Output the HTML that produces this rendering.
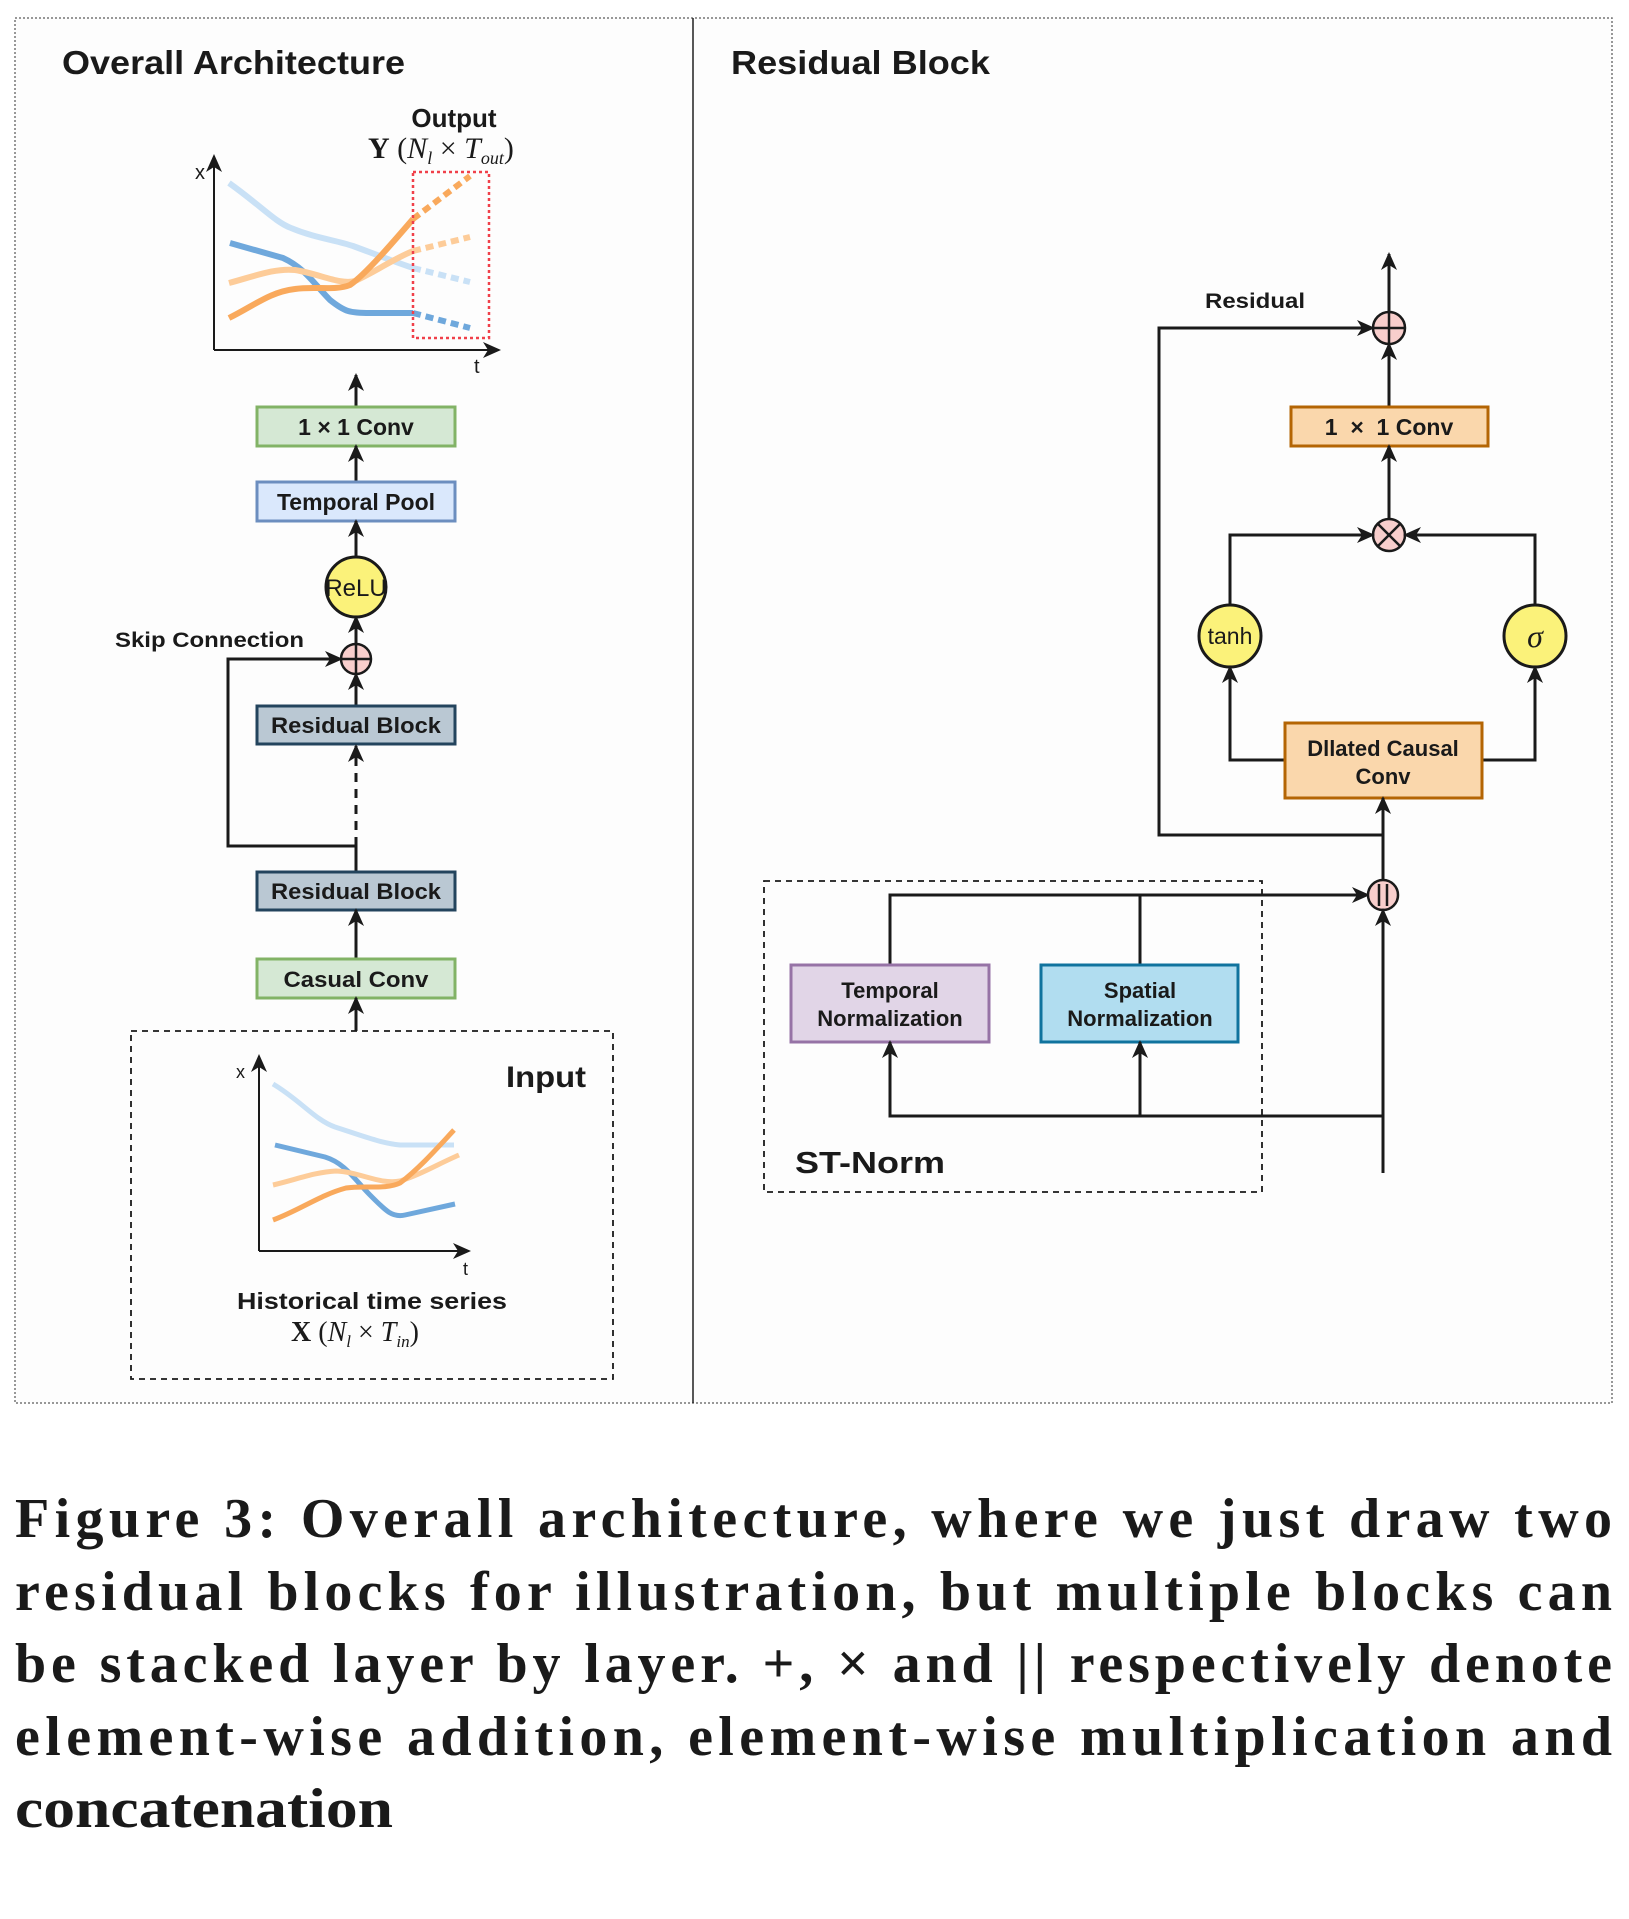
<!DOCTYPE html>
<html><head><meta charset="utf-8"><style>html,body{margin:0;padding:0;background:#fff}svg{display:block}</style></head>
<body>
<svg xmlns="http://www.w3.org/2000/svg" width="1629" height="1919" viewBox="0 0 1629 1919" font-family="Liberation Sans, Arial, sans-serif">
<defs>
<marker id="a" markerUnits="userSpaceOnUse" markerWidth="18" markerHeight="18" refX="16" refY="9" orient="auto">
<path d="M0,1 L18,9 L0,17 L5,9 Z" fill="#1a1a1a"/>
</marker>
</defs>
<rect x="0" y="0" width="1629" height="1919" fill="#fff"/>
<!-- outer border -->
<rect x="15" y="18" width="1597" height="1385" fill="#fdfdfd" stroke="#777" stroke-width="1.5" stroke-dasharray="2,2"/>
<line x1="693" y1="18" x2="693" y2="1403" stroke="#222" stroke-width="1.5"/>

<text x="62" y="74" font-size="33" font-weight="bold" fill="#1a1a1a" textLength="343" lengthAdjust="spacingAndGlyphs">Overall Architecture</text>
<text x="731" y="74" font-size="33" font-weight="bold" fill="#1a1a1a" textLength="259" lengthAdjust="spacingAndGlyphs">Residual Block</text>

<!-- output chart -->
<text x="454" y="127" font-size="26" font-weight="bold" text-anchor="middle" fill="#1a1a1a">Output</text>
<text x="368" y="158" font-family="Liberation Serif, serif" font-size="30" fill="#1a1a1a"><tspan font-weight="bold">Y</tspan> (<tspan font-style="italic">N</tspan><tspan font-style="italic" font-size="18" dy="6">l</tspan><tspan dy="-6"> × </tspan><tspan font-style="italic">T</tspan><tspan font-style="italic" font-size="18" dy="6">out</tspan><tspan dy="-6">)</tspan></text>
<line x1="214" y1="350" x2="214" y2="156" stroke="#1a1a1a" stroke-width="2" marker-end="url(#a)"/>
<line x1="214" y1="350" x2="499" y2="350" stroke="#1a1a1a" stroke-width="2" marker-end="url(#a)"/>
<text x="195" y="179" font-size="20" fill="#1a1a1a">x</text>
<text x="474" y="373" font-size="20" fill="#1a1a1a">t</text>
<g fill="none" stroke-width="6" stroke-linecap="butt">
<path d="M229,183 C260,205 275,222 291,228 C315,238 335,240 353,246 C380,256 395,262 413,268" stroke="#c9e1f6"/>
<path d="M413,268 L470,282" stroke="#c9e1f6" stroke-dasharray="8,5"/>
<path d="M230,243 L283,258 C305,268 315,285 330,300 C345,312 350,313 370,313 L413,313" stroke="#6fa8dc"/>
<path d="M413,313 L470,328" stroke="#6fa8dc" stroke-dasharray="8,5"/>
<path d="M229,283 C255,276 275,268 295,270 C320,274 340,285 355,281 C375,272 395,258 413,251" stroke="#fdcc99"/>
<path d="M413,251 L470,237" stroke="#fdcc99" stroke-dasharray="8,5"/>
<path d="M229,318 C255,305 270,292 295,289 C315,286 335,291 350,285 C365,275 395,240 413,219" stroke="#f9a95c"/>
<path d="M413,219 L470,176" stroke="#f9a95c" stroke-dasharray="8,5"/>
</g>
<rect x="413" y="172" width="76" height="166" fill="none" stroke="#f0404a" stroke-width="2.5" stroke-dasharray="3,3"/>

<!-- left stack -->
<line x1="356" y1="407" x2="356" y2="375" stroke="#1a1a1a" stroke-width="3" marker-end="url(#a)"/>
<rect x="257" y="407" width="198" height="39" fill="#d5e8d4" stroke="#82b366" stroke-width="3"/>
<text x="356" y="435" font-size="23" font-weight="bold" text-anchor="middle" fill="#1a1a1a">1 × 1 Conv</text>
<line x1="356" y1="482" x2="356" y2="446" stroke="#1a1a1a" stroke-width="3" marker-end="url(#a)"/>
<rect x="257" y="482" width="198" height="39" fill="#dae8fc" stroke="#6c8ebf" stroke-width="3"/>
<text x="356" y="510" font-size="23" font-weight="bold" text-anchor="middle" fill="#1a1a1a">Temporal Pool</text>
<line x1="356" y1="557" x2="356" y2="521" stroke="#1a1a1a" stroke-width="3" marker-end="url(#a)"/>
<ellipse cx="356" cy="587" rx="30" ry="30" fill="#fbf27a" stroke="#1a1a1a" stroke-width="3"/>
<text x="356" y="596" font-size="24" text-anchor="middle" fill="#1a1a1a">ReLU</text>
<line x1="356" y1="645" x2="356" y2="617" stroke="#1a1a1a" stroke-width="3" marker-end="url(#a)"/>
<text x="115" y="647" font-size="21" font-weight="bold" fill="#1a1a1a" textLength="189" lengthAdjust="spacingAndGlyphs">Skip Connection</text>
<circle cx="356" cy="659" r="15" fill="#f8cecc" stroke="#1a1a1a" stroke-width="2.5"/>
<line x1="341" y1="659" x2="371" y2="659" stroke="#1a1a1a" stroke-width="2.5"/>
<line x1="356" y1="644" x2="356" y2="674" stroke="#1a1a1a" stroke-width="2.5"/>
<line x1="356" y1="706" x2="356" y2="674" stroke="#1a1a1a" stroke-width="3" marker-end="url(#a)"/>
<rect x="257" y="706" width="198" height="38" fill="#bac8d3" stroke="#23445d" stroke-width="3"/>
<text x="356" y="733" font-size="22" font-weight="bold" text-anchor="middle" fill="#1a1a1a" textLength="170" lengthAdjust="spacingAndGlyphs">Residual Block</text>
<line x1="356" y1="846" x2="356" y2="746" stroke="#1a1a1a" stroke-width="3" stroke-dasharray="9,7" marker-end="url(#a)"/>
<path d="M356,872 L356,846 L228,846 L228,659 L341,659" fill="none" stroke="#1a1a1a" stroke-width="3" marker-end="url(#a)"/>
<rect x="257" y="872" width="198" height="38" fill="#bac8d3" stroke="#23445d" stroke-width="3"/>
<text x="356" y="899" font-size="22" font-weight="bold" text-anchor="middle" fill="#1a1a1a" textLength="170" lengthAdjust="spacingAndGlyphs">Residual Block</text>
<line x1="356" y1="959" x2="356" y2="910" stroke="#1a1a1a" stroke-width="3" marker-end="url(#a)"/>
<rect x="257" y="959" width="198" height="39" fill="#d5e8d4" stroke="#82b366" stroke-width="3"/>
<text x="356" y="987" font-size="22" font-weight="bold" text-anchor="middle" fill="#1a1a1a" textLength="145" lengthAdjust="spacingAndGlyphs">Casual Conv</text>
<line x1="356" y1="1031" x2="356" y2="998" stroke="#1a1a1a" stroke-width="3" marker-end="url(#a)"/>

<!-- input box -->
<rect x="131" y="1031" width="482" height="348" fill="none" stroke="#1a1a1a" stroke-width="1.8" stroke-dasharray="6,5"/>
<text x="506" y="1087" font-size="30" font-weight="bold" fill="#1a1a1a" textLength="80" lengthAdjust="spacingAndGlyphs">Input</text>
<line x1="259" y1="1251" x2="259" y2="1056" stroke="#1a1a1a" stroke-width="2" marker-end="url(#a)"/>
<line x1="259" y1="1251" x2="469" y2="1251" stroke="#1a1a1a" stroke-width="2" marker-end="url(#a)"/>
<text x="236" y="1078" font-size="18" fill="#1a1a1a">x</text>
<text x="463" y="1275" font-size="18" fill="#1a1a1a">t</text>
<g fill="none" stroke-width="5">
<path d="M273,1084 C300,1100 315,1120 335,1127 C360,1135 380,1143 400,1145 L454,1145" stroke="#c9e1f6"/>
<path d="M275,1145 L325,1157 C345,1163 355,1180 370,1195 C385,1210 392,1218 405,1215 L455,1204" stroke="#6fa8dc"/>
<path d="M273,1185 C295,1180 315,1172 336,1171 C360,1172 380,1185 400,1181 C420,1175 440,1163 459,1155" stroke="#fdcc99"/>
<path d="M273,1220 C300,1210 320,1195 346,1188 C365,1185 385,1190 400,1183 C420,1168 440,1145 454,1130" stroke="#f9a95c"/>
</g>
<text x="372" y="1309" font-size="23" font-weight="bold" text-anchor="middle" fill="#1a1a1a" textLength="270" lengthAdjust="spacingAndGlyphs">Historical time series</text>
<text x="291" y="1341" font-family="Liberation Serif, serif" font-size="28" fill="#1a1a1a"><tspan font-weight="bold">X</tspan> (<tspan font-style="italic">N</tspan><tspan font-style="italic" font-size="17" dy="6">l</tspan><tspan dy="-6"> × </tspan><tspan font-style="italic">T</tspan><tspan font-style="italic" font-size="17" dy="6">in</tspan><tspan dy="-6">)</tspan></text>

<!-- right panel -->
<line x1="1389" y1="312" x2="1389" y2="254" stroke="#1a1a1a" stroke-width="3" marker-end="url(#a)"/>
<text x="1205" y="308" font-size="21" font-weight="bold" fill="#1a1a1a" textLength="100" lengthAdjust="spacingAndGlyphs">Residual</text>
<path d="M1383,835 L1159,835 L1159,328 L1373,328" fill="none" stroke="#1a1a1a" stroke-width="3" marker-end="url(#a)"/>
<circle cx="1389" cy="328" r="16" fill="#f8cecc" stroke="#1a1a1a" stroke-width="2.5"/>
<line x1="1373" y1="328" x2="1405" y2="328" stroke="#1a1a1a" stroke-width="2.5"/>
<line x1="1389" y1="312" x2="1389" y2="344" stroke="#1a1a1a" stroke-width="2.5"/>
<line x1="1389" y1="407" x2="1389" y2="344" stroke="#1a1a1a" stroke-width="3" marker-end="url(#a)"/>
<rect x="1291" y="407" width="197" height="39" fill="#fad7ac" stroke="#b46504" stroke-width="3"/>
<text x="1389" y="435" font-size="23" font-weight="bold" text-anchor="middle" fill="#1a1a1a" xml:space="preserve">1  ×  1 Conv</text>
<line x1="1389" y1="519" x2="1389" y2="446" stroke="#1a1a1a" stroke-width="3" marker-end="url(#a)"/>
<circle cx="1389" cy="535" r="16" fill="#f8cecc" stroke="#1a1a1a" stroke-width="2.5"/>
<line x1="1378" y1="524" x2="1400" y2="546" stroke="#1a1a1a" stroke-width="2.5"/>
<line x1="1400" y1="524" x2="1378" y2="546" stroke="#1a1a1a" stroke-width="2.5"/>
<path d="M1230,605 L1230,535 L1373,535" fill="none" stroke="#1a1a1a" stroke-width="3" marker-end="url(#a)"/>
<path d="M1535,605 L1535,535 L1405,535" fill="none" stroke="#1a1a1a" stroke-width="3" marker-end="url(#a)"/>
<circle cx="1230" cy="636" r="31" fill="#fbf27a" stroke="#1a1a1a" stroke-width="3"/>
<text x="1230" y="644" font-size="23" text-anchor="middle" fill="#1a1a1a">tanh</text>
<circle cx="1535" cy="636" r="31" fill="#fbf27a" stroke="#1a1a1a" stroke-width="3"/>
<text x="1535" y="647" font-family="Liberation Serif, serif" font-style="italic" font-size="32" text-anchor="middle" fill="#1a1a1a">σ</text>
<path d="M1285,760 L1230,760 L1230,667" fill="none" stroke="#1a1a1a" stroke-width="3" marker-end="url(#a)"/>
<path d="M1482,760 L1535,760 L1535,667" fill="none" stroke="#1a1a1a" stroke-width="3" marker-end="url(#a)"/>
<rect x="1285" y="723" width="197" height="75" fill="#fad7ac" stroke="#b46504" stroke-width="3"/>
<text x="1383" y="756" font-size="22" font-weight="bold" text-anchor="middle" fill="#1a1a1a">Dllated Causal</text>
<text x="1383" y="784" font-size="22" font-weight="bold" text-anchor="middle" fill="#1a1a1a">Conv</text>
<line x1="1383" y1="880" x2="1383" y2="798" stroke="#1a1a1a" stroke-width="3" marker-end="url(#a)"/>

<!-- ST-Norm -->
<rect x="764" y="881" width="498" height="311" fill="none" stroke="#1a1a1a" stroke-width="1.8" stroke-dasharray="6,5"/>
<text x="795" y="1173" font-size="31" font-weight="bold" fill="#1a1a1a" textLength="150" lengthAdjust="spacingAndGlyphs">ST-Norm</text>
<path d="M890,965 L890,895 L1368,895" fill="none" stroke="#1a1a1a" stroke-width="3" marker-end="url(#a)"/>
<line x1="1140" y1="965" x2="1140" y2="895" stroke="#1a1a1a" stroke-width="3"/>
<circle cx="1383" cy="895" r="15" fill="#f8cecc" stroke="#1a1a1a" stroke-width="2.5"/>
<line x1="1379" y1="884" x2="1379" y2="906" stroke="#1a1a1a" stroke-width="2.5"/>
<line x1="1387" y1="884" x2="1387" y2="906" stroke="#1a1a1a" stroke-width="2.5"/>
<rect x="791" y="965" width="198" height="77" fill="#e1d5e7" stroke="#9673a6" stroke-width="3"/>
<text x="890" y="998" font-size="22" font-weight="bold" text-anchor="middle" fill="#1a1a1a">Temporal</text>
<text x="890" y="1026" font-size="22" font-weight="bold" text-anchor="middle" fill="#1a1a1a">Normalization</text>
<rect x="1041" y="965" width="197" height="77" fill="#b1ddf0" stroke="#10739e" stroke-width="3"/>
<text x="1140" y="998" font-size="22" font-weight="bold" text-anchor="middle" fill="#1a1a1a">Spatial</text>
<text x="1140" y="1026" font-size="22" font-weight="bold" text-anchor="middle" fill="#1a1a1a">Normalization</text>
<line x1="1383" y1="1173" x2="1383" y2="910" stroke="#1a1a1a" stroke-width="3" marker-end="url(#a)"/>
<path d="M1383,1116 L890,1116 L890,1042" fill="none" stroke="#1a1a1a" stroke-width="3" marker-end="url(#a)"/>
<line x1="1140" y1="1116" x2="1140" y2="1042" stroke="#1a1a1a" stroke-width="3" marker-end="url(#a)"/>

<!-- caption -->
<g font-family="Liberation Serif, serif" font-weight="bold" font-size="56" fill="#1a1a1a">
<text x="15" y="1537" textLength="1597" lengthAdjust="spacing">Figure 3: Overall architecture, where we just draw two</text>
<text x="15" y="1610" textLength="1597" lengthAdjust="spacing">residual blocks for illustration, but multiple blocks can</text>
<text x="15" y="1682" textLength="1597" lengthAdjust="spacing">be stacked layer by layer. +, × and || respectively denote</text>
<text x="15" y="1755" textLength="1597" lengthAdjust="spacing">element-wise addition, element-wise multiplication and</text>
<text x="15" y="1827" textLength="378" lengthAdjust="spacingAndGlyphs">concatenation</text>
</g>
</svg>
</body></html>
